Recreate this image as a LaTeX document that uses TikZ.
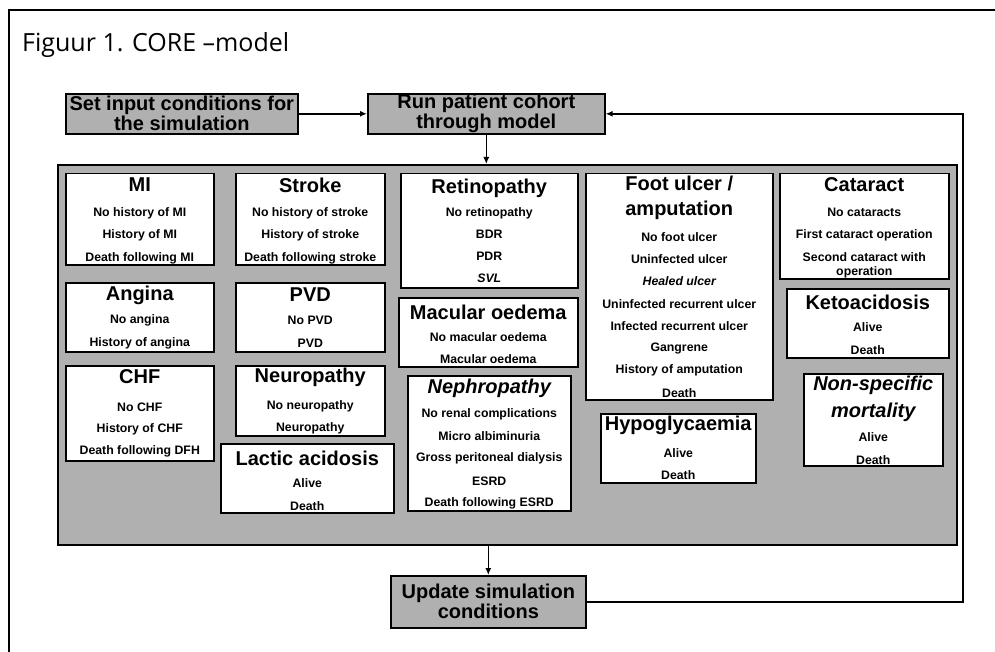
\documentclass[tikz,border=0pt]{standalone}
\usepackage{fontspec}
\setmainfont{Liberation Sans}
\newfontfamily\titlefont{Open Sans}
\usetikzlibrary{arrows.meta}
\tikzset{
  catbox/.style={draw=black, line width=1.5pt, fill=white, inner sep=0pt, anchor=north west},
  panelbox/.style={draw=black, line width=1.6pt, fill=gray!62, inner sep=0pt, anchor=north west},
  stepbox/.style={draw=black, line width=1.6pt, fill=gray!62, inner sep=0pt, anchor=north west,
     font=\fontsize{20}{20}\selectfont\bfseries, align=center},
  head/.style={font=\fontsize{20}{25}\selectfont\bfseries, inner sep=0pt, align=center},
  itembox/.style={font=\fontsize{12.3}{14}\selectfont\bfseries, inner sep=0pt, align=center},
  conn/.style={line width=1.6pt, -{Latex[length=7pt,width=6pt]}},
  frameline/.style={line width=1.6pt},
}
\newcommand\heading[3]{\node[head] (#1-h) at ([yshift=-#2pt]#1.north) {#3};}
\newcommand\itemlist[4]{\foreach \t [count=\i from 0] in {#4}
  {\node[itembox] (#1-\i) at ([yshift={-(#2+#3*\i)*1pt}]#1.north) {\t};}}
\newcommand\catnode[5]{\node[catbox, minimum width=#4pt, minimum height=#5pt] (#1) at (#2,#3) {};}
\begin{document}
\begin{tikzpicture}[x=1pt,y=-1pt]
\useasboundingbox (0,0) rectangle (995,652);
% outer frame
\draw[frameline] (9,652) -- (9,10) -- (995,10);
\node[anchor=base west, inner sep=0pt, font=\titlefont\fontsize{25}{30}\selectfont] (title) at (22,52) {Figuur 1. CORE –model};

% top step boxes
\node[stepbox, minimum width=232pt, minimum height=40pt] (setin) at (65,93) {Set input conditions for\\the simulation};
\node[stepbox, minimum width=237pt, minimum height=40pt] (run) at (367,93) {Run patient cohort\\through model};
\node[stepbox, minimum width=195pt, minimum height=52pt] (update) at (390,575) {Update simulation\\conditions};

% panel
\node[panelbox, minimum width=899pt, minimum height=380pt] (panel) at (57,164) {};

% category boxes
\catnode{mi}{65}{173}{148}{91}
\heading{mi}{12}{MI}
\itemlist{mi}{40}{22.5}{No history of MI, History of MI, Death following MI}

\catnode{stroke}{235}{173}{149}{91}
\heading{stroke}{12}{Stroke}
\itemlist{stroke}{40}{22.5}{No history of stroke, History of stroke, Death following stroke}

\catnode{angina}{65}{282}{148}{69}
\heading{angina}{13}{Angina}
\itemlist{angina}{38}{23}{No angina, History of angina}

\catnode{pvd}{235}{282}{149}{69}
\heading{pvd}{13}{PVD}
\itemlist{pvd}{38}{23}{No PVD, PVD}

\catnode{chf}{65}{365}{148}{95}
\heading{chf}{12}{CHF}
\itemlist{chf}{42}{22}{No CHF, History of CHF, Death following DFH}

\catnode{neuro}{235}{365}{149}{70}
\heading{neuro}{12}{Neuropathy}
\itemlist{neuro}{41}{22}{No neuropathy, Neuropathy}

\catnode{lactic}{220}{443}{173}{69}
\heading{lactic}{15}{Lactic acidosis}
\itemlist{lactic}{40}{23}{Alive, Death}

\catnode{retino}{400}{173}{177}{114}
\heading{retino}{15}{Retinopathy}
\itemlist{retino}{40}{21.7}{No retinopathy, BDR, PDR, {\itshape SVL}}

\catnode{macular}{398}{297}{179}{69}
\heading{macular}{15}{Macular oedema}
\itemlist{macular}{40}{22}{No macular oedema, Macular oedema}

\catnode{nephro}{407}{375}{163}{135}
\heading{nephro}{13}{\itshape Nephropathy}
\itemlist{nephro}{39}{22.3}{No renal complications, Micro albiminuria, Gross peritoneal dialysis, ESRD, Death following ESRD}

\catnode{foot}{585}{173}{187}{226}
\heading{foot}{25}{Foot ulcer /\\amputation}
\itemlist{foot}{64}{22.3}{No foot ulcer, Uninfected ulcer, {\itshape Healed ulcer}, Uninfected recurrent ulcer, Infected recurrent ulcer, Gangrene, History of amputation, Death}

\catnode{cataract}{779}{173}{169}{105}
\heading{cataract}{12}{Cataract}
\itemlist{cataract}{39}{23}{No cataracts, First cataract operation}
\node[itembox] (cataract-2) at ([yshift=-92pt]cataract.north) {Second cataract with\\operation};

\catnode{keto}{786}{288}{162}{69}
\heading{keto}{14}{Ketoacidosis}
\itemlist{keto}{39}{23}{Alive, Death}

\catnode{nonspec}{803}{373}{139}{92}
\node[head, font=\fontsize{20}{27}\selectfont\bfseries\itshape] (nonspec-h) at ([yshift=-26pt]nonspec.north) {Non-specific\\mortality};
\itemlist{nonspec}{64}{23}{Alive, Death}

\catnode{hypo}{600}{413}{155}{69}
\heading{hypo}{12}{Hypoglycaemia}
\itemlist{hypo}{40}{22}{Alive, Death}

% connectors
\coordinate (fb) at (963,0);
\draw[conn] (setin.east) -- (run.west);
\draw[conn] (run.south) -- (panel.north -| run.south);
\draw[conn] (panel.south -| update.north) -- (update.north);
\draw[conn] (update.east) -- (update.east -| fb) -- (run.east -| fb) -- (run.east);
\end{tikzpicture}
\end{document}
